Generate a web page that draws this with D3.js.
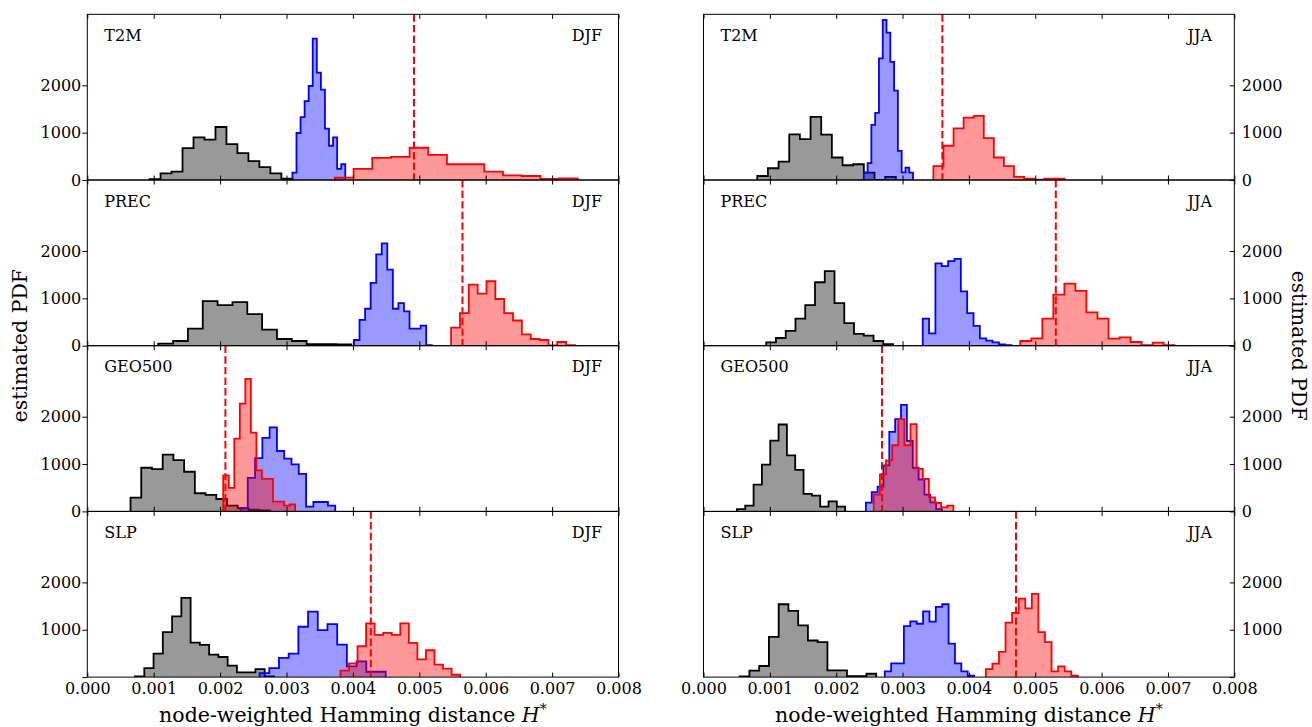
<!DOCTYPE html>
<html>
<head>
<meta charset="utf-8">
<script src="https://cdn.jsdelivr.net/npm/d3@7"></script>
<style>
	body { margin: 0; background: #fff; }
	svg { display: block; }
</style>
</head>
<body>
<div id="chart"></div>
<script>
// axis values
const xTicks = [0, 0.001, 0.002, 0.003, 0.004, 0.005, 0.006, 0.007, 0.008];
const yTicks = [0, 1000, 2000];
const xDomain = [0, 0.008];
const yDomain = [0, 3500];
const variables = ["T2M", "PREC", "GEO500", "SLP"];
const seasons = ["DJF", "JJA"];

// each histogram: bin range [lo, hi] + counts (equal-width bins)
// T2M DJF
const t2mDjfBlackRange = [0.000938, 0.003088];
const t2mDjfBlack = [20, 142, 177, 673, 900, 851, 1120, 759, 567, 397, 270, 142, 28];
const t2mDjfBlueRange = [0.003089, 0.003885];
const t2mDjfBlue = [156, 993, 1326, 1666, 1985, 2985, 2269, 1907, 1085, 723, 900, 234, 333];
const t2mDjfRedRange = [0.003729, 0.007385];
const t2mDjfRed = [50, 234, 468, 489, 681, 532, 333, 333, 177, 99, 85, 21, 35];
const t2mDjfLine = 0.00492;

// PREC DJF
const precDjfBlackRange = [0.001068, 0.003974];
const precDjfBlack = [43, 99, 362, 943, 858, 922, 666, 340, 142, 99, 35, 35, 28];
const precDjfBlueRange = [0.004016, 0.0051875];
const precDjfBlue = [120, 546, 780, 1326, 1928, 2162, 1609, 780, 900, 723, 362, 362, 425, 14];
const precDjfRedRange = [0.005479, 0.007344];
const precDjfRed = [383, 688, 1290, 1099, 1361, 986, 688, 532, 241, 142, 120, 5, 78, 14];
const precDjfLine = 0.00565;

// GEO500 DJF
const geoDjfBlackRange = [0.000651, 0.00275];
const geoDjfBlack = [291, 922, 893, 1198, 1085, 837, 383, 347, 262, 120, 71, 35, 20];
const geoDjfBlueRange = [0.002307, 0.003734];
const geoDjfBlue = [71, 709, 1127, 1553, 1773, 1276, 1113, 993, 794, 99, 199, 199, 120];
const geoDjfRedRange = [0.002047, 0.00313];
const geoDjfRed = [759, 496, 1539, 2276, 2800, 1666, 865, 688, 688, 206, 206, 120, 149];
const geoDjfLine = 0.00208;

// SLP DJF
const slpDjfBlackRange = [0.000719, 0.002811];
const slpDjfBlack = [14, 191, 496, 950, 1283, 1673, 730, 681, 475, 425, 241, 99, 99, 170, 14];
const slpDjfBlueRange = [0.002594, 0.004494];
const slpDjfBlue = [85, 191, 404, 496, 1064, 1385, 993, 1120, 688, 227, 333, 113, 113];
const slpDjfRedRange = [0.0038125, 0.005615];
const slpDjfRed = [135, 291, 652, 1134, 893, 936, 893, 1134, 723, 376, 567, 262, 177, 50];
const slpDjfLine = 0.00427;

// T2M JJA
const t2mJjaBlackRange = [0.00081, 0.002899];
const t2mJjaBlack = [85, 248, 390, 964, 865, 1333, 957, 475, 312, 333, 156, 0, 64];
const t2mJjaBlueRange = [0.002416, 0.003158];
const t2mJjaBlue = [156, 355, 1163, 1418, 2567, 3382, 3113, 2496, 1886, 617, 163, 262, 156];
const t2mJjaRedRange = [0.003465, 0.005439];
const t2mJjaRed = [291, 723, 1092, 1319, 1354, 886, 475, 291, 64, 28, 5, 28, 28];
const t2mJjaLine = 0.0036;

// PREC JJA
const precJjaBlackRange = [0.000945, 0.002857];
const precJjaBlack = [71, 163, 312, 574, 858, 1340, 1574, 900, 475, 248, 213, 99, 35];
const precJjaBlueRange = [0.003304, 0.004644];
const precJjaBlue = [574, 262, 1737, 1680, 1787, 1836, 1149, 688, 418, 156, 106, 71, 28, 14];
const precJjaRedRange = [0.004774, 0.007101];
const precJjaRed = [99, 156, 574, 1078, 1312, 1156, 702, 574, 149, 177, 78, 14, 64, 14];
const precJjaLine = 0.00531;

// GEO500 JJA
const geoJjaBlackRange = [0.000504, 0.002135];
const geoJjaBlack = [50, 120, 567, 986, 1496, 1836, 1184, 879, 369, 333, 99, 213, 99];
const geoJjaBlueRange = [0.002447, 0.003595];
const geoJjaBlue = [184, 404, 525, 971, 1680, 1950, 2248, 1489, 922, 674, 355, 191, 50];
const geoJjaRedRange = [0.002566, 0.003766];
const geoJjaRed = [355, 780, 1078, 1397, 1950, 1397, 1843, 900, 688, 298, 177, 85, 120];
const geoJjaLine = 0.00269;

// SLP JJA
const slpJjaBlackRange = [0.000545, 0.002603];
const slpJjaBlack = [14, 135, 234, 851, 1539, 1397, 1092, 773, 737, 142, 142, 21, 21, 71];
const slpJjaBlueRange = [0.002732, 0.004078];
const slpJjaBlue = [120, 291, 291, 1078, 1177, 1127, 1390, 1170, 1482, 1539, 709, 291, 120, 28];
const slpJjaRedRange = [0.004255, 0.005642];
const slpJjaRed = [170, 284, 532, 1149, 1354, 1659, 1453, 1758, 950, 737, 120, 227, 120, 28];
const slpJjaLine = 0.00471;

const colors = ["#000000", "#0000ff", "#ff0000"];

const panels = [
	{row: 0, col: 0, line: t2mDjfLine, hists: [[t2mDjfBlackRange, t2mDjfBlack], [t2mDjfBlueRange, t2mDjfBlue], [t2mDjfRedRange, t2mDjfRed]]},
	{row: 1, col: 0, line: precDjfLine, hists: [[precDjfBlackRange, precDjfBlack], [precDjfBlueRange, precDjfBlue], [precDjfRedRange, precDjfRed]]},
	{row: 2, col: 0, line: geoDjfLine, hists: [[geoDjfBlackRange, geoDjfBlack], [geoDjfBlueRange, geoDjfBlue], [geoDjfRedRange, geoDjfRed]]},
	{row: 3, col: 0, line: slpDjfLine, hists: [[slpDjfBlackRange, slpDjfBlack], [slpDjfBlueRange, slpDjfBlue], [slpDjfRedRange, slpDjfRed]]},
	{row: 0, col: 1, line: t2mJjaLine, hists: [[t2mJjaBlackRange, t2mJjaBlack], [t2mJjaBlueRange, t2mJjaBlue], [t2mJjaRedRange, t2mJjaRed]]},
	{row: 1, col: 1, line: precJjaLine, hists: [[precJjaBlackRange, precJjaBlack], [precJjaBlueRange, precJjaBlue], [precJjaRedRange, precJjaRed]]},
	{row: 2, col: 1, line: geoJjaLine, hists: [[geoJjaBlackRange, geoJjaBlack], [geoJjaBlueRange, geoJjaBlue], [geoJjaRedRange, geoJjaRed]]},
	{row: 3, col: 1, line: slpJjaLine, hists: [[slpJjaBlackRange, slpJjaBlack], [slpJjaBlueRange, slpJjaBlue], [slpJjaRedRange, slpJjaRed]]},
];

const width = 1312, height = 727;
const margin = {top: 14.3, bottom: 49.9};
const columns = [{left: 87.3, right: 618.5}, {left: 703.5, right: 1234.3}];
const rowHeight = (height - margin.top - margin.bottom) / 4;
const font = "'DejaVu Serif', serif";

const svg = d3.select("#chart").append("svg")
	.attr("width", width)
	.attr("height", height)
	.attr("viewBox", `0 0 ${width} ${height}`);

svg.append("rect").attr("width", width).attr("height", height).attr("fill", "#fff");

const defs = svg.append("defs");

panels.forEach((p, i) => {
	const col = columns[p.col];
	const top = margin.top + p.row * rowHeight;
	const bottom = top + rowHeight;

	const x = d3.scaleLinear().domain(xDomain).range([col.left, col.right]);
	const y = d3.scaleLinear().domain(yDomain).range([bottom, top]);

	defs.append("clipPath").attr("id", `clip-${i}`)
		.append("rect")
			.attr("x", col.left).attr("y", top)
			.attr("width", col.right - col.left).attr("height", rowHeight);

	const g = svg.append("g").attr("class", "panel");
	const plot = g.append("g").attr("clip-path", `url(#clip-${i})`);

	const area = d3.area().x(d => x(d[0])).y0(y(0)).y1(d => y(d[1]));
	const line = d3.line().x(d => x(d[0])).y(d => y(d[1]));

	p.hists.forEach(([range, counts], k) => {
		const n = counts.length;
		const edges = d3.range(n + 1).map(j => range[0] + j * (range[1] - range[0]) / n);
		const verts = [[edges[0], 0]];
		counts.forEach((c, j) => verts.push([edges[j], c], [edges[j + 1], c]));
		verts.push([edges[n], 0]);

		plot.append("path")
			.attr("d", area(verts))
			.attr("fill", colors[k])
			.attr("fill-opacity", 0.4);

		plot.append("path")
			.attr("d", line(verts))
			.attr("fill", "none")
			.attr("stroke", colors[k])
			.attr("stroke-width", 1.8);
	});

	plot.append("line")
		.attr("x1", x(p.line)).attr("x2", x(p.line))
		.attr("y1", top).attr("y2", bottom)
		.attr("stroke", "#ff0000")
		.attr("stroke-width", 2)
		.attr("stroke-dasharray", "7.4,3.2");

	// x ticks, inward on top and bottom
	g.append("g")
		.attr("transform", `translate(0, ${top})`)
		.call(d3.axisTop(x).tickValues(xTicks).tickSize(-4.5).tickFormat(""))
		.call(a => a.select(".domain").remove());

	g.append("g")
		.attr("transform", `translate(0, ${bottom})`)
		.call(d3.axisBottom(x).tickValues(xTicks).tickSize(-4.5).tickPadding(5.8)
			.tickFormat(p.row === 3 ? d3.format(".3f") : ""))
		.call(a => a.select(".domain").remove())
		.attr("font-family", font)
		.attr("font-size", 16)
		.selectAll("text").attr("fill", "#000");

	const yFormat = v => (p.row === 3 && v === 0) ? "" : v;
	if (p.col === 0) {
		g.append("g")
			.attr("transform", `translate(${col.left}, 0)`)
			.call(d3.axisLeft(y).tickValues(yTicks).tickSize(5).tickPadding(1).tickFormat(yFormat))
			.call(a => a.select(".domain").remove())
			.attr("font-family", font)
			.attr("font-size", 16)
			.selectAll("text").attr("fill", "#000");
	} else {
		g.append("g")
			.attr("transform", `translate(${col.right}, 0)`)
			.call(d3.axisRight(y).tickValues(yTicks).tickSize(-4.5).tickPadding(7.5).tickFormat(yFormat))
			.call(a => a.select(".domain").remove())
			.attr("font-family", font)
			.attr("font-size", 16)
			.selectAll("text").attr("fill", "#000");
	}

	g.append("rect")
		.attr("x", col.left).attr("y", top)
		.attr("width", col.right - col.left).attr("height", rowHeight)
		.attr("fill", "none")
		.attr("stroke", "#000")
		.attr("stroke-width", 1);

	const w = col.right - col.left;
	g.append("text")
		.attr("x", col.left + 0.032 * w)
		.attr("y", top + 26.7)
		.attr("font-family", font)
		.attr("font-size", 16)
		.text(variables[p.row]);

	g.append("text")
		.attr("x", col.left + 0.912 * w)
		.attr("y", top + 26.7)
		.attr("font-family", font)
		.attr("font-size", 16)
		.text(seasons[p.col]);
});

// axis titles
columns.forEach(col => {
	const t = svg.append("text")
		.attr("x", (col.left + col.right) / 2)
		.attr("y", 722)
		.attr("text-anchor", "middle")
		.attr("font-family", font)
		.attr("font-size", 20.5);
	t.append("tspan").text("node-weighted Hamming distance ");
	t.append("tspan").attr("font-style", "italic").text("H");
	t.append("tspan").attr("font-size", 14).attr("dy", -8).text("*");
});

const midY = margin.top + 2 * rowHeight;
svg.append("text")
	.attr("transform", `translate(20, ${midY}) rotate(-90)`)
	.attr("text-anchor", "middle")
	.attr("dominant-baseline", "central")
	.attr("font-family", font)
	.attr("font-size", 20.5)
	.text("estimated PDF");

svg.append("text")
	.attr("transform", `translate(1299, ${midY}) rotate(90)`)
	.attr("text-anchor", "middle")
	.attr("dominant-baseline", "central")
	.attr("font-family", font)
	.attr("font-size", 20)
	.text("estimated PDF");
</script>
</body>
</html>
